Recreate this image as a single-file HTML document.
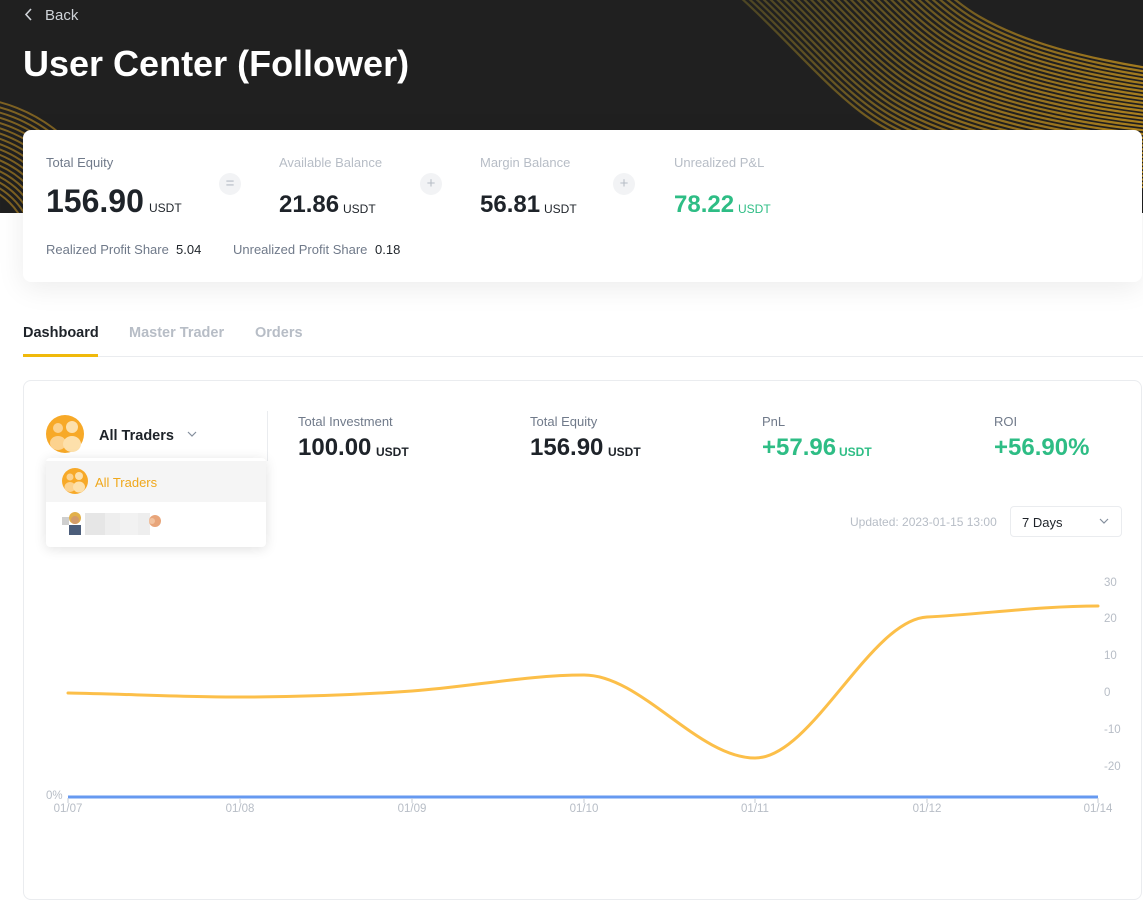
<!DOCTYPE html>
<html><head><meta charset="utf-8">
<style>
*{box-sizing:border-box}
body{margin:0;width:1143px;height:840px;overflow:hidden;background:#fff;position:relative;font-family:"Liberation Sans",Arial,sans-serif;color:#1e2329}
.t{position:absolute;white-space:nowrap;line-height:1}
.lbl{font-size:13px;color:#b7bdc6}
.dk{color:#707a8a}
.v32{font-size:32px;font-weight:bold;color:#1e2329}
.v24{font-size:24px;font-weight:bold;color:#1e2329}
.u{font-size:12px;color:#1e2329}
.g{color:#2ebd85}
.ax{font-size:11.5px;color:#b7bdc6}
.xl{font-size:11.5px;color:#b7bdc6;width:40px;text-align:center}
.circ{position:absolute;width:22px;height:22px;border-radius:50%;background:#f2f3f5;color:#b7bdc6;font-size:15px;line-height:22px;text-align:center}
</style></head><body>

<!-- header -->
<div style="position:absolute;left:0;top:0;width:1143px;height:213px;background:#202020;overflow:hidden">
<svg width="1143" height="213" style="position:absolute;left:0;top:0">
<defs>
<linearGradient id="wg" gradientUnits="userSpaceOnUse" x1="720" y1="0" x2="1143" y2="0">
<stop offset="0" stop-color="rgb(110,100,40)" stop-opacity="0.5"/>
<stop offset="0.5" stop-color="rgb(160,120,30)" stop-opacity="0.85"/>
<stop offset="1" stop-color="rgb(185,138,30)" stop-opacity="1"/>
</linearGradient>
</defs>
<g fill="none" stroke="url(#wg)" stroke-width="2.2">
<path transform="translate(0,0)" d="M690,-40 C760,0 820,90 880,125 C940,160 1050,185 1200,190"/>
<path transform="translate(3.2,-3.5)" d="M690,-40 C760,0 820,90 880,125 C940,160 1050,185 1200,190"/>
<path transform="translate(6.4,-7)" d="M690,-40 C760,0 820,90 880,125 C940,160 1050,185 1200,190"/>
<path transform="translate(9.6,-10.5)" d="M690,-40 C760,0 820,90 880,125 C940,160 1050,185 1200,190"/>
<path transform="translate(12.8,-14)" d="M690,-40 C760,0 820,90 880,125 C940,160 1050,185 1200,190"/>
<path transform="translate(16,-17.5)" d="M690,-40 C760,0 820,90 880,125 C940,160 1050,185 1200,190"/>
<path transform="translate(19.2,-21)" d="M690,-40 C760,0 820,90 880,125 C940,160 1050,185 1200,190"/>
<path transform="translate(22.4,-24.5)" d="M690,-40 C760,0 820,90 880,125 C940,160 1050,185 1200,190"/>
<path transform="translate(25.6,-28)" d="M690,-40 C760,0 820,90 880,125 C940,160 1050,185 1200,190"/>
<path transform="translate(28.8,-31.5)" d="M690,-40 C760,0 820,90 880,125 C940,160 1050,185 1200,190"/>
<path transform="translate(32,-35)" d="M690,-40 C760,0 820,90 880,125 C940,160 1050,185 1200,190"/>
<path transform="translate(35.2,-38.5)" d="M690,-40 C760,0 820,90 880,125 C940,160 1050,185 1200,190"/>
<path transform="translate(38.4,-42)" d="M690,-40 C760,0 820,90 880,125 C940,160 1050,185 1200,190"/>
<path transform="translate(41.6,-45.5)" d="M690,-40 C760,0 820,90 880,125 C940,160 1050,185 1200,190"/>
<path transform="translate(44.8,-49)" d="M690,-40 C760,0 820,90 880,125 C940,160 1050,185 1200,190"/>
<path transform="translate(48,-52.5)" d="M690,-40 C760,0 820,90 880,125 C940,160 1050,185 1200,190"/>
<path transform="translate(51.2,-56)" d="M690,-40 C760,0 820,90 880,125 C940,160 1050,185 1200,190"/>
<path transform="translate(54.4,-59.5)" d="M690,-40 C760,0 820,90 880,125 C940,160 1050,185 1200,190"/>
<path transform="translate(57.6,-63)" d="M690,-40 C760,0 820,90 880,125 C940,160 1050,185 1200,190"/>
<path transform="translate(60.8,-66.5)" d="M690,-40 C760,0 820,90 880,125 C940,160 1050,185 1200,190"/>
<path transform="translate(64,-70)" d="M690,-40 C760,0 820,90 880,125 C940,160 1050,185 1200,190"/>
<path transform="translate(67.2,-73.5)" d="M690,-40 C760,0 820,90 880,125 C940,160 1050,185 1200,190"/>
<path transform="translate(70.4,-77)" d="M690,-40 C760,0 820,90 880,125 C940,160 1050,185 1200,190"/>
<path transform="translate(73.6,-80.5)" d="M690,-40 C760,0 820,90 880,125 C940,160 1050,185 1200,190"/>
<path transform="translate(76.8,-84)" d="M690,-40 C760,0 820,90 880,125 C940,160 1050,185 1200,190"/>
<path transform="translate(80,-87.5)" d="M690,-40 C760,0 820,90 880,125 C940,160 1050,185 1200,190"/>
<path transform="translate(83.2,-91)" d="M690,-40 C760,0 820,90 880,125 C940,160 1050,185 1200,190"/>
<path transform="translate(86.4,-94.5)" d="M690,-40 C760,0 820,90 880,125 C940,160 1050,185 1200,190"/>
<path transform="translate(89.6,-98)" d="M690,-40 C760,0 820,90 880,125 C940,160 1050,185 1200,190"/>
<path transform="translate(92.8,-101.5)" d="M690,-40 C760,0 820,90 880,125 C940,160 1050,185 1200,190"/>
<path transform="translate(96,-105)" d="M690,-40 C760,0 820,90 880,125 C940,160 1050,185 1200,190"/>
<path transform="translate(99.2,-108.5)" d="M690,-40 C760,0 820,90 880,125 C940,160 1050,185 1200,190"/>
</g>
<g fill="none" stroke="rgb(165,125,35)" stroke-opacity="0.7" stroke-width="2">
<circle cx="-40" cy="252" r="70"/><circle cx="-40" cy="252" r="75"/><circle cx="-40" cy="252" r="80"/>
<circle cx="-40" cy="252" r="85"/><circle cx="-40" cy="252" r="90"/><circle cx="-40" cy="252" r="95"/>
<circle cx="-40" cy="252" r="100"/><circle cx="-40" cy="252" r="105"/><circle cx="-40" cy="252" r="110"/>
<circle cx="-40" cy="252" r="115"/><circle cx="-40" cy="252" r="120"/><circle cx="-40" cy="252" r="125"/>
<circle cx="-40" cy="252" r="130"/><circle cx="-40" cy="252" r="135"/><circle cx="-40" cy="252" r="140"/>
<circle cx="-40" cy="252" r="145"/><circle cx="-40" cy="252" r="150"/><circle cx="-40" cy="252" r="155"/>
</g>
<path d="M31,9 L26,14.5 L31,20" fill="none" stroke="#cfd3d8" stroke-width="1.6"/>
</svg>
<div class="t" style="left:45px;top:7.5px;font-size:15px;color:#cfd3d8">Back</div>
<div class="t" style="left:23px;top:46px;font-size:36px;font-weight:bold;color:#fff">User Center (Follower)</div>
</div>

<!-- top card -->
<div style="position:absolute;left:23px;top:130px;width:1119px;height:152px;background:#fff;border-radius:8px;box-shadow:0 6px 28px rgba(0,0,0,0.08)"></div>
<div class="t lbl dk" style="left:46px;top:155.5px">Total Equity</div>
<div class="t lbl" style="left:279px;top:155.5px">Available Balance</div>
<div class="t lbl" style="left:480px;top:155.5px">Margin Balance</div>
<div class="t lbl" style="left:674px;top:155.5px">Unrealized P&amp;L</div>

<div class="t v32" style="left:46px;top:185px">156.90</div>
<div class="t u" style="left:149px;top:201.8px">USDT</div>
<div class="t v24" style="left:279px;top:192.7px">21.86</div>
<div class="t u" style="left:343px;top:202.8px">USDT</div>
<div class="t v24" style="left:480px;top:192.7px">56.81</div>
<div class="t u" style="left:544px;top:202.8px">USDT</div>
<div class="t v24 g" style="left:674px;top:192.7px">78.22</div>
<div class="t u g" style="left:738px;top:202.8px">USDT</div>

<div class="circ" style="left:219px;top:173px">=</div>
<div class="circ" style="left:420px;top:173px">+</div>
<div class="circ" style="left:613px;top:173px">+</div>

<div class="t lbl dk" style="left:46px;top:243px">Realized Profit Share</div>
<div class="t" style="left:176px;top:243px;font-size:13px;color:#1e2329">5.04</div>
<div class="t lbl dk" style="left:233px;top:243px">Unrealized Profit Share</div>
<div class="t" style="left:375px;top:243px;font-size:13px;color:#1e2329">0.18</div>

<!-- tabs -->
<div class="t" style="left:23px;top:326px;font-size:14.5px;font-weight:bold;color:#1e2329">Dashboard</div>
<div class="t" style="left:129px;top:326px;font-size:14.5px;font-weight:bold;color:#b7bdc6">Master Trader</div>
<div class="t" style="left:255px;top:326px;font-size:14.5px;font-weight:bold;color:#b7bdc6">Orders</div>
<div style="position:absolute;left:23px;top:356px;width:1120px;height:1px;background:#eaecef"></div>
<div style="position:absolute;left:23px;top:354px;width:75px;height:3px;background:#f0b90b"></div>

<!-- dashboard card -->
<div style="position:absolute;left:23px;top:380px;width:1119px;height:520px;background:#fff;border:1px solid #eaecef;border-radius:8px"></div>

<svg width="1143" height="840" style="position:absolute;left:0;top:0">
<circle cx="65" cy="434" r="19" fill="#f7a928"/>
<circle cx="58" cy="428" r="5" fill="#fcd28e"/>
<circle cx="72" cy="427" r="6" fill="#fde0ab"/>
<ellipse cx="58" cy="443" rx="8" ry="7" fill="#fcd28e"/>
<ellipse cx="72" cy="444" rx="9" ry="8" fill="#fde0ab"/>
<path d="M188,432 L192,436 L196,432" fill="none" stroke="#848e9c" stroke-width="1.2"/>
<line x1="267.5" y1="411" x2="267.5" y2="461" stroke="#eaecef"/>
<path d="M1100,519 L1104,523 L1108,519" fill="none" stroke="#848e9c" stroke-width="1.2"/>
</svg>

<div class="t" style="left:99px;top:428.5px;font-size:14.5px;font-weight:bold;color:#1e2329">All Traders</div>

<div class="t lbl dk" style="left:298px;top:415px">Total Investment</div>
<div class="t lbl dk" style="left:530px;top:415px">Total Equity</div>
<div class="t lbl dk" style="left:762px;top:415px">PnL</div>
<div class="t lbl dk" style="left:994px;top:415px">ROI</div>

<div class="t v24" style="left:298px;top:435.5px">100.00</div>
<div class="t u" style="left:376px;top:445.5px;font-weight:bold">USDT</div>
<div class="t v24" style="left:530px;top:435.5px">156.90</div>
<div class="t u" style="left:608px;top:445.5px;font-weight:bold">USDT</div>
<div class="t v24 g" style="left:762px;top:435.5px">+57.96</div>
<div class="t u g" style="left:839px;top:445.5px;font-weight:bold">USDT</div>
<div class="t v24 g" style="left:994px;top:435.5px">+56.90%</div>

<!-- dropdown -->
<div style="position:absolute;left:46px;top:458px;width:220px;height:89px;background:#fff;border-radius:4px;box-shadow:0 2px 12px rgba(0,0,0,0.12)">
<div style="position:absolute;left:0;top:3px;width:220px;height:41px;background:#f5f5f5"></div>
</div>
<svg width="1143" height="840" style="position:absolute;left:0;top:0">
<circle cx="75" cy="481" r="13" fill="#f7a928"/>
<circle cx="70" cy="477" r="3.5" fill="#fcd28e"/>
<circle cx="79" cy="476" r="4" fill="#fde0ab"/>
<ellipse cx="70" cy="487" rx="5.5" ry="5" fill="#fcd28e"/>
<ellipse cx="79" cy="487" rx="6" ry="5.5" fill="#fde0ab"/>
<rect x="85" y="513" width="65" height="22" fill="#eeeeee"/>
<rect x="85" y="513" width="20" height="22" fill="#e6e6e6"/>
<rect x="120" y="513" width="18" height="22" fill="#f2f2f2"/>
<circle cx="75" cy="518" r="6" fill="#e2b04a"/>
<circle cx="75" cy="520" r="4" fill="#d39b6a"/>
<rect x="69" y="525" width="12" height="10" fill="#4b5d7a"/>
<rect x="62" y="517" width="7" height="8" fill="#cfcfcf"/>
<circle cx="155" cy="521" r="6" fill="#e8a57a"/>
<circle cx="152" cy="521" r="3" fill="#f2c3a0"/>
</svg>
<div class="t" style="left:95px;top:476px;font-size:13px;color:#f0a81c">All Traders</div>

<div class="t" style="left:850px;top:515.5px;font-size:12px;color:#b7bdc6">Updated: 2023-01-15 13:00</div>
<div style="position:absolute;left:1010px;top:506px;width:112px;height:31px;border:1px solid #eaecef;border-radius:4px"></div>
<div class="t" style="left:1022px;top:516px;font-size:13px;color:#1e2329">7 Days</div>

<!-- chart -->
<svg width="1143" height="840" style="position:absolute;left:0;top:0">
<path d="M68,693 C125,694 183,697 240,697 C297,697 355,695 412,691 C469,687 527,675 584,675 C641,675 698,758 755,758 C812,758 870,620 927,617 C984,614 1041,606 1098,606" fill="none" stroke="#fcbf49" stroke-width="3" stroke-linecap="round"/>
<line x1="68" y1="797" x2="1098" y2="797" stroke="#6699f0" stroke-width="3"/>
<g stroke="#c6cbd3" stroke-width="1">
<line x1="68" y1="798" x2="68" y2="803"/><line x1="240" y1="798" x2="240" y2="803"/>
<line x1="412" y1="798" x2="412" y2="803"/><line x1="584" y1="798" x2="584" y2="803"/>
<line x1="755" y1="798" x2="755" y2="803"/><line x1="927" y1="798" x2="927" y2="803"/>
<line x1="1098" y1="798" x2="1098" y2="803"/>
</g>
</svg>

<div class="t ax" style="left:1104px;top:578px">30</div>
<div class="t ax" style="left:1104px;top:614px">20</div>
<div class="t ax" style="left:1104px;top:651px">10</div>
<div class="t ax" style="left:1104px;top:688px">0</div>
<div class="t ax" style="left:1104px;top:725px">-10</div>
<div class="t ax" style="left:1104px;top:762px">-20</div>
<div class="t ax" style="left:46px;top:791px">0%</div>

<div class="t xl" style="left:48px;top:804px">01/07</div>
<div class="t xl" style="left:220px;top:804px">01/08</div>
<div class="t xl" style="left:392px;top:804px">01/09</div>
<div class="t xl" style="left:564px;top:804px">01/10</div>
<div class="t xl" style="left:735px;top:804px">01/11</div>
<div class="t xl" style="left:907px;top:804px">01/12</div>
<div class="t xl" style="left:1078px;top:804px">01/14</div>

</body></html>
